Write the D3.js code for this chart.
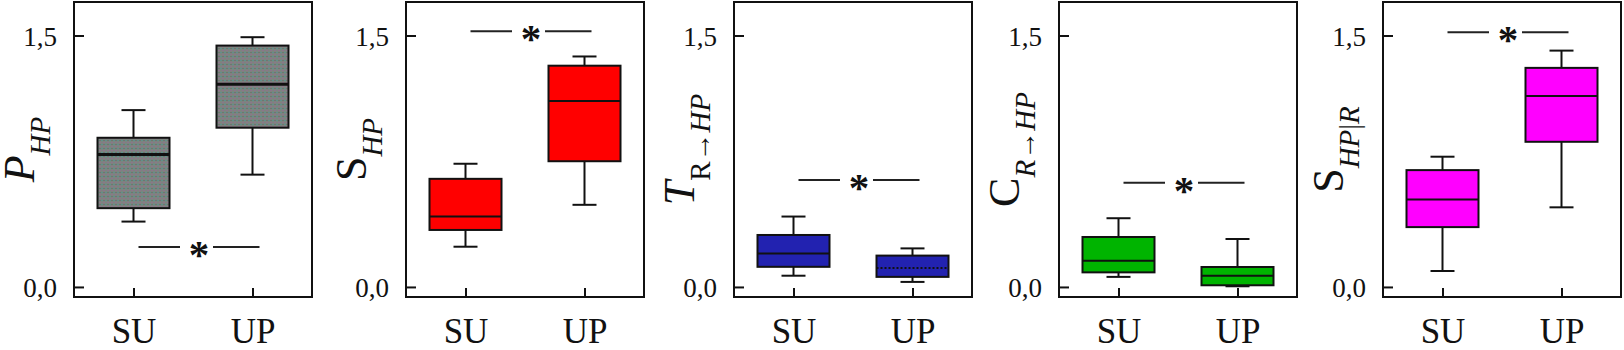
<!DOCTYPE html>
<meta charset="utf-8">
<head>
  <title>Box plots SU vs UP</title>
</head>

<style>
  body {
    margin: 0;
    background: #fff;
  }
  text {
    font-family: "Liberation Serif", "Times New Roman", serif;
    fill: #111;
  }
</style>

<body>
<svg id="chart" width="1624" height="350"></svg>

<script src="https://cdnjs.cloudflare.com/ajax/libs/d3/7.8.5/d3.min.js"></script>
<script>
  // groups on the x axis
  var categories = ["SU", "UP"];
  var yTicks = [0, 1.5];

  // [whisker low, q1, median, q3, whisker high]
  var pHP_SU = [0.39, 0.47, 0.79, 0.89, 1.055];
  var pHP_UP = [0.67, 0.95, 1.21, 1.44, 1.49];
  var sHP_SU = [0.24, 0.34, 0.42, 0.645, 0.735];
  var sHP_UP = [0.49, 0.75, 1.11, 1.32, 1.375];
  var tRHP_SU = [0.067, 0.12, 0.2, 0.31, 0.42];
  var tRHP_UP = [0.03, 0.06, 0.113, 0.187, 0.23];
  var cRHP_SU = [0.06, 0.087, 0.157, 0.298, 0.41];
  var cRHP_UP = [0.004, 0.01, 0.067, 0.119, 0.286];
  var sHPR_SU = [0.095, 0.357, 0.521, 0.697, 0.777];
  var sHPR_UP = [0.475, 0.866, 1.139, 1.307, 1.41];

  // height of the "— * —" significance mark
  var sigLevel = [0.238, 1.526, 0.638, 0.622, 1.519];

  var panelLefts = [74, 406, 734, 1059, 1383];
  var fills = ["url(#stipple)", "#ff0000", "#2222b0", "#00b400", "#ff00ff"];

  var panels = [
    { main: "P", mainItalic: true, sub: [["HP", true]], boxes: [pHP_SU, pHP_UP] },
    { main: "S", mainItalic: false, sub: [["HP", true]], boxes: [sHP_SU, sHP_UP] },
    { main: "T", mainItalic: true, sub: [["R", false], ["\u2192", false], ["HP", true]], boxes: [tRHP_SU, tRHP_UP], dotted: 1 },
    { main: "C", mainItalic: false, sub: [["R", true], ["\u2192", false], ["HP", true]], boxes: [cRHP_SU, cRHP_UP] },
    { main: "S", mainItalic: false, sub: [["HP", true], ["|", false], ["R", true]], boxes: [sHPR_SU, sHPR_UP] }
  ];

  var commaFmt = d3.formatLocale({ decimal: ",", thousands: ".", grouping: [3], currency: ["", ""] }).format(".1f");

  var plotW = 238, plotTop = 2, plotBottom = 297;

  var svg = d3.select("#chart");

  // grey stippled fill of the first panel
  var pat = svg.append("defs").append("pattern")
    .attr("id", "stipple")
    .attr("width", 4).attr("height", 4)
    .attr("patternUnits", "userSpaceOnUse");
  pat.append("rect").attr("width", 4).attr("height", 4).attr("fill", "#7c847f");
  pat.append("rect").attr("x", 0).attr("y", 0).attr("width", 1).attr("height", 1).attr("fill", "#3f9c9a");
  pat.append("rect").attr("x", 2).attr("y", 2).attr("width", 1).attr("height", 1).attr("fill", "#a0609a");
  pat.append("rect").attr("x", 2).attr("y", 0).attr("width", 1).attr("height", 1).attr("fill", "#66665e");

  var y = d3.scaleLinear()
    .domain([-0.06, 1.7])
    .range([plotBottom, plotTop]);

  var x = d3.scalePoint()
    .domain(categories)
    .range([0, plotW])
    .padding(0.5);

  var boxW = 72, capW = 24;

  panels.forEach(function(p, i) {
    var g = svg.append("g").attr("transform", "translate(" + panelLefts[i] + ",0)");

    // y axis, ticks pointing inward
    var yAxis = g.append("g")
      .call(d3.axisRight(y).tickValues(yTicks).tickSize(10).tickFormat(commaFmt));
    yAxis.select(".domain").remove();
    yAxis.selectAll("line").attr("stroke", "#111").attr("stroke-width", 2);
    yAxis.selectAll("text")
      .attr("x", -17)
      .attr("dy", "0.36em")
      .attr("text-anchor", "end")
      .attr("fill", "#111")
      .style("font-size", "27px")
      .style("font-family", "Liberation Serif, serif");

    // x axis, ticks pointing inward
    var xAxis = g.append("g")
      .attr("transform", "translate(0," + plotBottom + ")")
      .call(d3.axisTop(x).tickSize(9).tickPadding(0));
    xAxis.select(".domain").remove();
    xAxis.selectAll("line").attr("stroke", "#111").attr("stroke-width", 2);
    xAxis.selectAll("text")
      .attr("y", 46)
      .attr("dy", 0)
      .attr("fill", "#111")
      .style("font-size", "35px")
      .style("font-family", "Liberation Serif, serif");

    // frame
    g.append("rect")
      .attr("x", 0).attr("y", plotTop)
      .attr("width", plotW).attr("height", plotBottom - plotTop)
      .attr("fill", "none")
      .attr("stroke", "#111")
      .attr("stroke-width", 2);

    // boxes
    var bx = g.selectAll(".bx")
      .data(p.boxes)
      .enter()
      .append("g")
      .attr("class", "bx")
      .attr("transform", function(d, j) { return "translate(" + x(categories[j]) + ",0)"; });

    bx.append("line")
      .attr("x1", 0).attr("x2", 0)
      .attr("y1", function(d) { return y(d[0]); })
      .attr("y2", function(d) { return y(d[4]); })
      .attr("stroke", "#111").attr("stroke-width", 2);
    bx.append("line")
      .attr("x1", -capW / 2).attr("x2", capW / 2)
      .attr("y1", function(d) { return y(d[0]); })
      .attr("y2", function(d) { return y(d[0]); })
      .attr("stroke", "#111").attr("stroke-width", 2);
    bx.append("line")
      .attr("x1", -capW / 2).attr("x2", capW / 2)
      .attr("y1", function(d) { return y(d[4]); })
      .attr("y2", function(d) { return y(d[4]); })
      .attr("stroke", "#111").attr("stroke-width", 2);
    bx.append("rect")
      .attr("x", -boxW / 2)
      .attr("y", function(d) { return y(d[3]); })
      .attr("width", boxW)
      .attr("height", function(d) { return y(d[1]) - y(d[3]); })
      .attr("fill", fills[i])
      .attr("stroke", "#111").attr("stroke-width", 2);
    bx.append("line")
      .attr("x1", -boxW / 2).attr("x2", boxW / 2)
      .attr("y1", function(d) { return y(d[2]); })
      .attr("y2", function(d) { return y(d[2]); })
      .attr("stroke", "#111")
      .attr("stroke-width", i === 0 ? 3 : 2)
      .attr("stroke-dasharray", function(d, j) { return p.dotted === j ? "2,2" : null; });

    // significance mark
    var sy = y(sigLevel[i]);
    var xs = x(categories[0]), xu = x(categories[1]);
    var star = (xs + xu) / 2 + 6;
    g.append("line")
      .attr("x1", xs + 5).attr("x2", star - 19)
      .attr("y1", sy).attr("y2", sy)
      .attr("stroke", "#222").attr("stroke-width", 2);
    g.append("line")
      .attr("x1", star + 14).attr("x2", xu + 7)
      .attr("y1", sy).attr("y2", sy)
      .attr("stroke", "#222").attr("stroke-width", 2);
    g.append("text")
      .attr("x", star)
      .attr("y", sy + 21)
      .attr("text-anchor", "middle")
      .style("font-size", "41px")
      .style("font-weight", "bold")
      .text("*");

    // rotated y label with subscript
    var lab = g.append("text")
      .attr("transform", "translate(-40," + ((plotTop + plotBottom) / 2) + ") rotate(-90)")
      .attr("text-anchor", "middle");
    lab.append("tspan")
      .style("font-size", "44px")
      .style("font-style", p.mainItalic ? "italic" : "normal")
      .text(p.main);
    p.sub.forEach(function(s, k) {
      lab.append("tspan")
        .attr("dy", k === 0 ? 16 : 0)
        .style("font-size", "29px")
        .style("font-style", s[1] ? "italic" : "normal")
        .text(s[0]);
    });
  });
</script>
</body>
</html>
